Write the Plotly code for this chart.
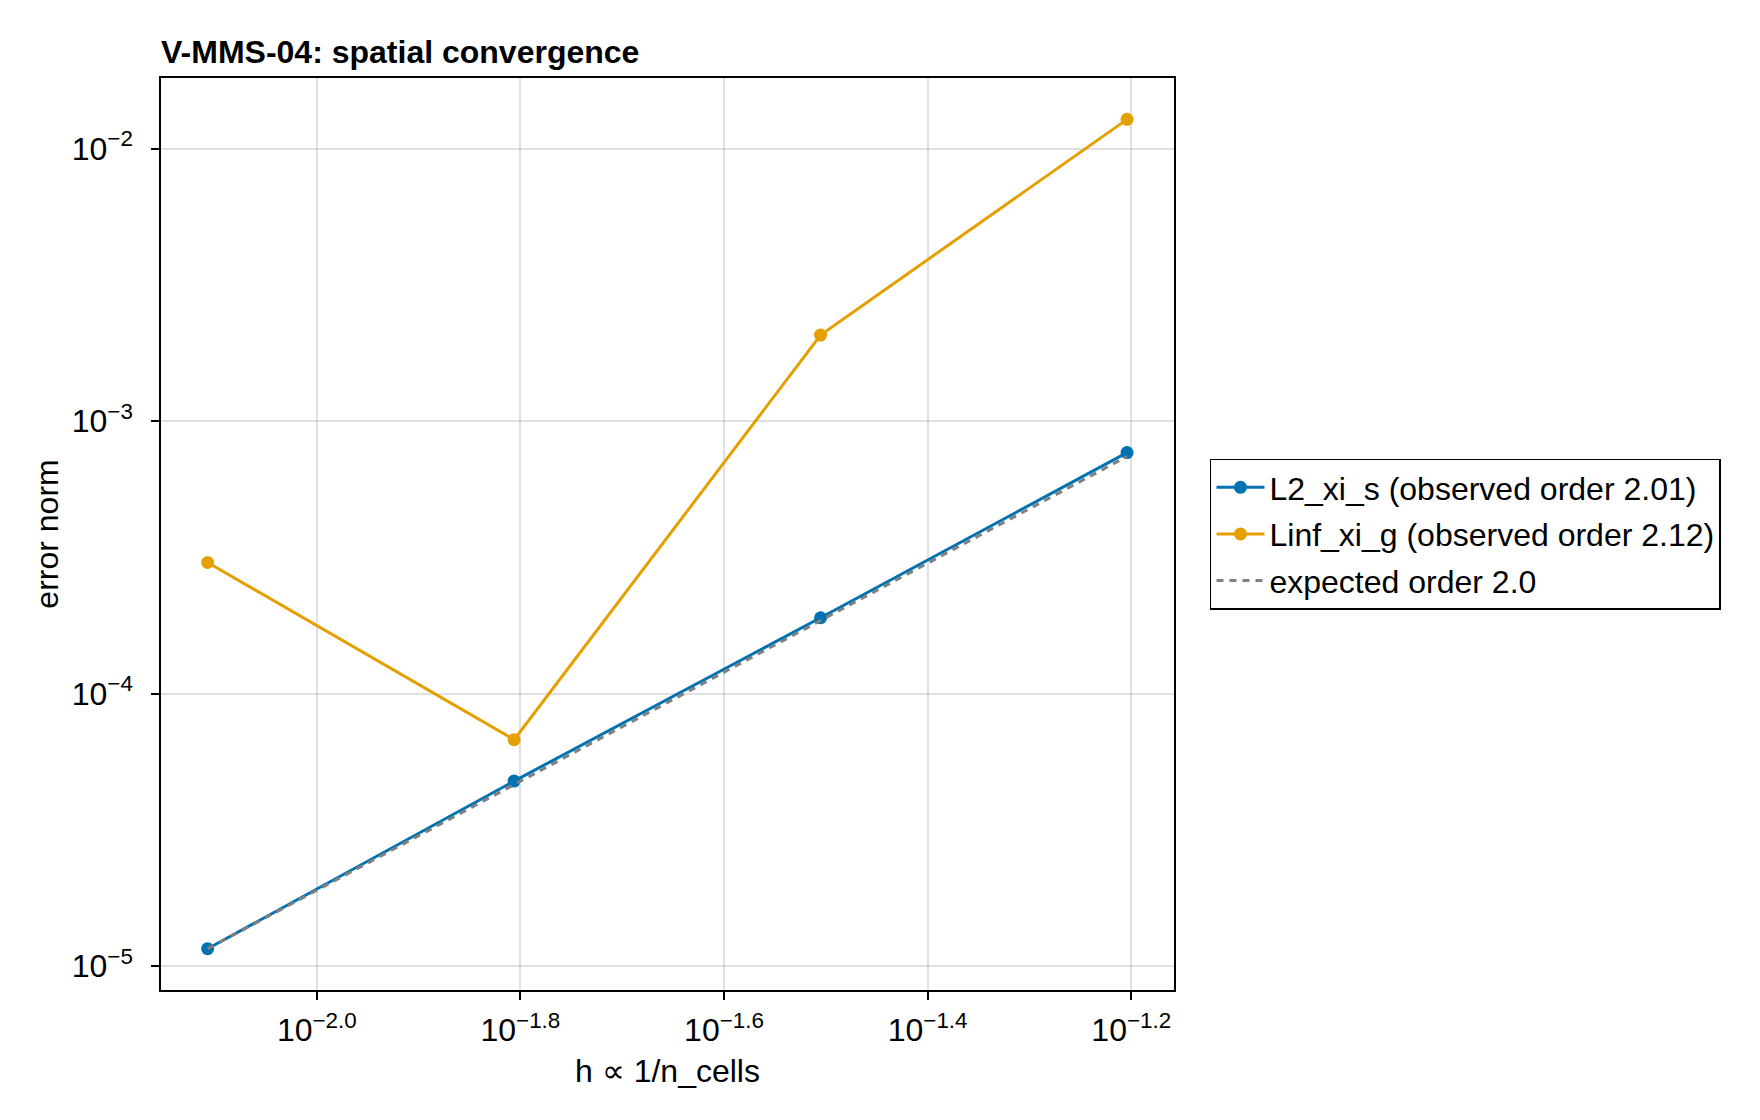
import numpy as np
import plotly.graph_objects as go

# Data
n_cells = [128, 64, 32, 16]
h = [1.0 / n for n in n_cells]
L2_xi_s = [1.16e-5, 4.78e-5, 1.90e-4, 7.67e-4]
Linf_xi_g = [3.03e-4, 6.78e-5, 2.07e-3, 1.28e-2]
expected_order = 2.0
expected = [L2_xi_s[0] * (hh / h[0]) ** expected_order for hh in h]

x_tick_exps = [-2.0, -1.8, -1.6, -1.4, -1.2]
y_tick_exps = [-2, -3, -4, -5]

BLUE = "#0072B2"
ORANGE = "#E69F00"
GRAY = "#808080"
FONT = "Liberation Sans"
FS = 32

fig = go.Figure()
fig.add_trace(go.Scatter(x=h, y=L2_xi_s, mode="lines+markers",
                         name="L2_xi_s (observed order 2.01)", legendgroup="a",
                         line=dict(color=BLUE, width=3),
                         marker=dict(color=BLUE, size=13)))
fig.add_trace(go.Scatter(x=h, y=Linf_xi_g, mode="lines+markers",
                         name="Linf_xi_g (observed order 2.12)", legendgroup="b",
                         line=dict(color=ORANGE, width=3),
                         marker=dict(color=ORANGE, size=13)))
fig.add_trace(go.Scatter(x=h, y=expected, mode="lines",
                         name="expected order 2.0", legendgroup="c",
                         line=dict(color=GRAY, width=3, dash="7px,6px")))

W, H = 1760, 1120
L, R, T, B = 160.5, 1174, 77.5, 990

fig.update_layout(
    width=W, height=H,
    margin=dict(l=L, r=W - R, t=T, b=H - B, pad=0),
    paper_bgcolor="white", plot_bgcolor="white",
    font=dict(family=FONT, size=FS, color="black"),
    title=dict(text="<b>V-MMS-04: spatial convergence</b>",
               x=0, xanchor="left", xref="paper",
               y=1 - 52 / H, yanchor="middle",
               font=dict(family=FONT, size=FS, color="black")),
    showlegend=True,
    legend=dict(x=(1210 - L) / (R - L), y=0.5, xanchor="left", yanchor="middle",
                bordercolor="black", borderwidth=1.5,
                font=dict(family=FONT, size=FS),
                bgcolor="white", itemwidth=48, tracegroupgap=2),
)

fig.update_xaxes(
    type="log", range=[-2.153, -1.158],
    tickvals=[10 ** e for e in x_tick_exps],
    ticktext=["10<sup>\u2212%.1f</sup>" % abs(e) for e in x_tick_exps],
    ticks="outside", ticklen=8, tickwidth=1.5, tickcolor="black",
    ticklabelstandoff=3,
    showline=True, linecolor="black", linewidth=1.5, mirror=True,
    showgrid=True, gridcolor="rgba(0,0,0,0.12)", gridwidth=1.5,
    zeroline=False,
    title=dict(text="h \u221d 1/n_cells", standoff=12, font=dict(size=FS)),
    tickfont=dict(size=FS),
)
fig.update_yaxes(
    type="log", range=[-5.087, -1.741],
    tickvals=[10.0 ** e for e in y_tick_exps],
    ticktext=["10<sup>\u2212%d</sup>" % abs(e) for e in y_tick_exps],
    ticks="outside", ticklen=8, tickwidth=1.5, tickcolor="black",
    ticklabelstandoff=12,
    showline=True, linecolor="black", linewidth=1.5, mirror=True,
    showgrid=True, gridcolor="rgba(0,0,0,0.12)", gridwidth=1.5,
    zeroline=False,
    title=dict(text="error norm", standoff=4, font=dict(size=FS)),
    tickfont=dict(size=FS),
)

fig.write_html("out.html")
